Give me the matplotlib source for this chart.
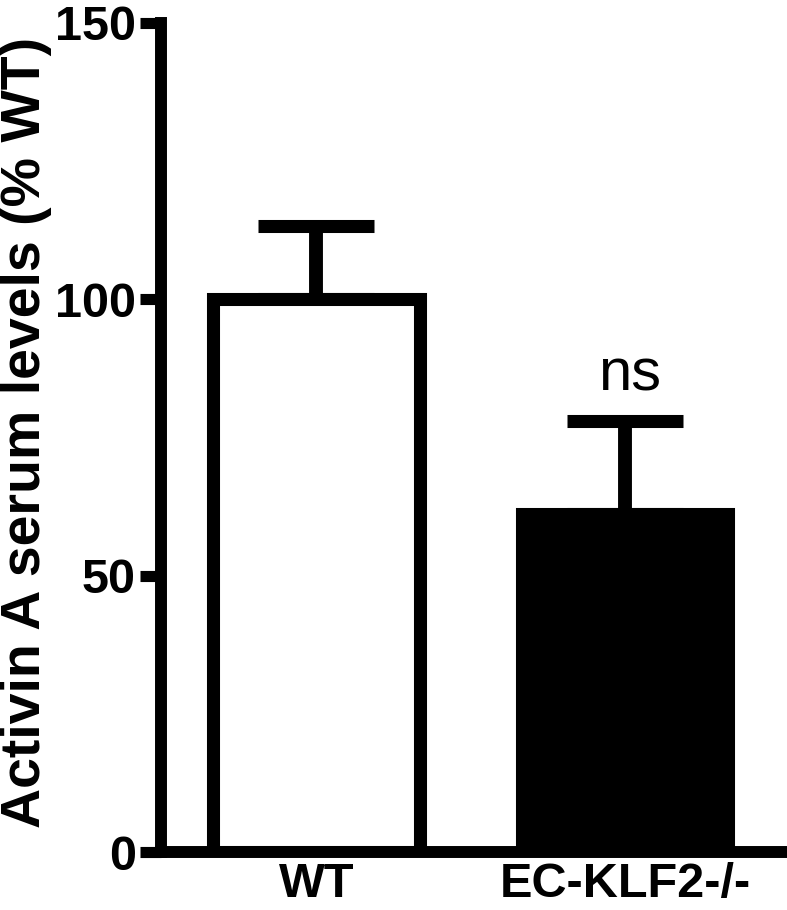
import matplotlib
matplotlib.use("Agg")
import matplotlib.pyplot as plt

categories = ["WT", "EC-KLF2-/-"]
means = [100.0, 61.1]
sem = [13.2, 16.9]
fills = ["white", "black"]
yticks = [0, 50, 100, 150]
annotation = "ns"
ylabel = "Activin A serum levels (% WT)"

plt.rcParams['font.family'] = ['Liberation Sans', 'DejaVu Sans']

fig = plt.figure(figsize=(7.87, 9.10), dpi=100)
ax = fig.add_axes([161/787, 58/910, 1 - 161/787, (852-23)/910])

x = list(range(len(categories)))
lw = 9.4
ax.errorbar(x, means, yerr=[[0]*len(sem), sem], fmt='none', ecolor='black',
            elinewidth=10, capsize=42, capthick=9.4, zorder=1)
ax.bar(x, means, width=0.668, color=fills, edgecolor='black', linewidth=lw, zorder=2)

ax.text(x[1] + 0.015, 78.0 + 5.5, annotation, ha='center', va='baseline',
        fontsize=43, fontweight='normal')

ax.set_xlim(-0.504, 1.525)
ax.set_ylim(0, 150)
ax.set_yticks(yticks)
ax.set_xticks(x)
ax.set_xticklabels(categories, fontsize=35, fontweight='bold')
ax.tick_params(axis='x', length=0, pad=7)
ax.tick_params(axis='y', length=15, width=8, pad=3, labelsize=35)
for lab in ax.get_yticklabels():
    lab.set_fontweight('bold')

for s in ['top', 'right']:
    ax.spines[s].set_visible(False)
for s in ['left', 'bottom']:
    ax.spines[s].set_linewidth(8.6)
ax.spines['left'].set_capstyle('projecting')

fig.text(26/787, 1 - 432/910, ylabel, rotation=90, ha='center', va='center',
         fontsize=40, fontweight='bold')

fig.savefig("out.png", dpi=100)
